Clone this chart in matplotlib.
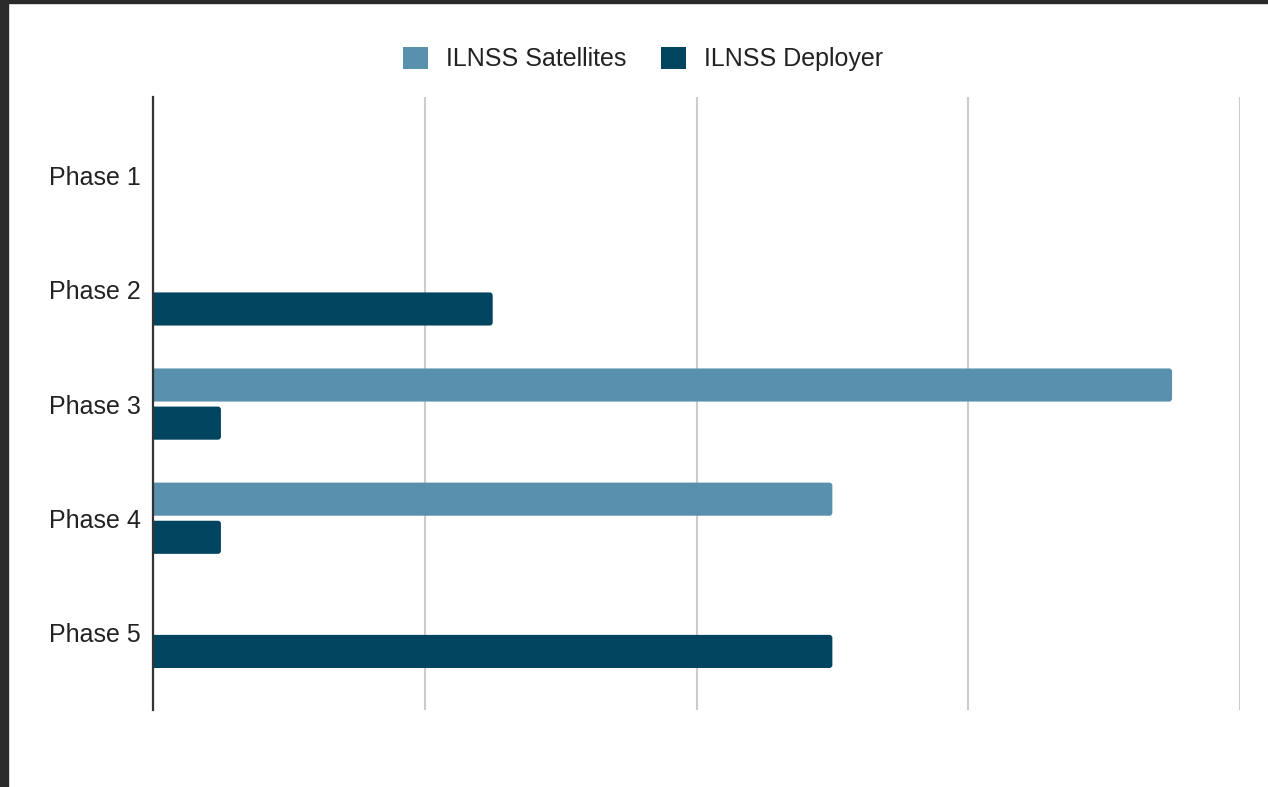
import matplotlib
matplotlib.use("Agg")
import matplotlib.pyplot as plt
from matplotlib.patches import Patch, Rectangle, FancyBboxPatch

categories = ["Phase 1", "Phase 2", "Phase 3", "Phase 4", "Phase 5"]
satellites = [0, 0, 15, 10, 0]
deployer = [0, 5, 1, 1, 10]
series_names = ["ILNSS Satellites", "ILNSS Deployer"]
colors = ["#5990ae", "#01445f"]

plt.rcParams['font.family'] = ['Liberation Sans', 'DejaVu Sans']

W, H = 1268, 787
fig = plt.figure(figsize=(W / 100, H / 100), dpi=100)
ax = fig.add_axes([153 / W, (H - 710) / H, (1240 - 153) / W, (710 - 97) / H])

y = list(range(len(categories)))
h = 0.29
off = 0.167
b1 = ax.barh([v - off for v in y], satellites, height=h, color=colors[0], zorder=3)
b2 = ax.barh([v + off for v in y], deployer, height=h, color=colors[1], zorder=3)

ax.set_xlim(0, 16)
ax.set_ylim(4.68, -0.69)

# rounded bar ends
r = 0.044
aspect = 0.595
for cont in (b1, b2):
    for rect in cont.patches:
        w = rect.get_width()
        if w <= 0:
            rect.set_visible(False)
            continue
        x0, y0, hh = rect.get_x(), rect.get_y(), rect.get_height()
        fb = FancyBboxPatch((x0 - r, y0), w + r, hh,
                            boxstyle=f"round,pad=0,rounding_size={r}",
                            mutation_aspect=aspect,
                            facecolor=rect.get_facecolor(), edgecolor='none', zorder=3)
        ax.add_patch(fb)
        rect.set_visible(False)

ax.set_xticks([0, 4, 8, 12, 16])
ax.set_xticklabels([])
ax.grid(axis='x', color='#cccccc', linewidth=1.5, zorder=0)
ax.set_yticks(y)
ax.set_yticklabels(categories, fontsize=18, color='#222222')
ax.tick_params(axis='both', length=0)
ax.tick_params(axis='y', pad=9)
for s in ['top', 'right', 'bottom']:
    ax.spines[s].set_visible(False)
ax.spines['left'].set_color('#333333')
ax.spines['left'].set_linewidth(1.6)
ax.spines['left'].set_zorder(4)

handles = [Patch(facecolor=c, edgecolor='none') for c in colors]
fig.legend(handles, series_names, loc='center', bbox_to_anchor=(0.507, 1 - 59 / H),
           ncol=2, frameon=False, fontsize=18, handlelength=1.0, handleheight=1.0,
           handletextpad=0.72, columnspacing=1.36, labelcolor='#222222')

# screenshot frame
fig.add_artist(Rectangle((0, 0), 8 / W, 1, transform=fig.transFigure, color='#2a2a2a', zorder=10))
fig.add_artist(Rectangle((0, 1 - 3 / H), 1, 3 / H, transform=fig.transFigure, color='#2a2a2a', zorder=10))

fig.savefig("out.png", dpi=100)
